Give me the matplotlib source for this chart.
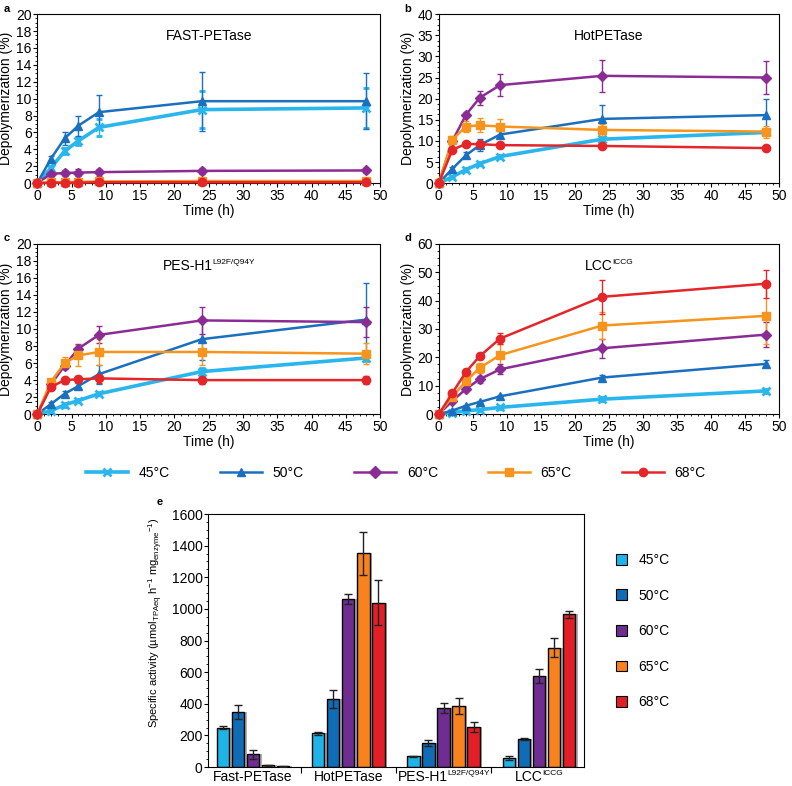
import matplotlib.pyplot as plt
import numpy as np
from matplotlib.lines import Line2D
from matplotlib.patches import Patch
from matplotlib.offsetbox import AnnotationBbox, HPacker, TextArea

plt.rcParams["font.family"] = ["Liberation Sans", "DejaVu Sans"]
plt.rcParams["mathtext.fontset"] = "custom"
plt.rcParams["mathtext.rm"] = "Liberation Sans"

TIME = [0, 2, 4, 6, 9, 24, 48]
TEMPS = ["45°C", "50°C", "60°C", "65°C", "68°C"]
LINE_COLORS = ["#29b6ec", "#1a6fbe", "#8b2c94", "#f7941d", "#e3262a"]
BAR_COLORS = ["#1eb4e8", "#0f6cb5", "#6f2d91", "#f7821e", "#e21f26"]
MARKERS = ["x", "^", "D", "s", "o"]

# depolymerization (%) per enzyme, rows = temperatures
FAST_Y = [
    [0, 1.8, 3.8, 5.0, 6.6, 8.7, 8.9],
    [0, 2.9, 5.3, 6.8, 8.4, 9.7, 9.7],
    [0, 1.1, 1.2, 1.25, 1.3, 1.45, 1.5],
    [0, 0.1, 0.1, 0.15, 0.2, 0.25, 0.25],
    [0, 0.05, 0.05, 0.05, 0.1, 0.1, 0.1],
]
FAST_E = [
    [0, 0.2, 0.4, 0.5, 1.0, 2.2, 2.4],
    [0, 0.3, 0.8, 1.2, 2.0, 3.5, 3.3],
    [0, 0.3, 0.4, 0.4, 0.4, 0.4, 0.3],
    [0, 0.05, 0.05, 0.05, 0.1, 0.1, 0.1],
    [0, 0.05, 0.05, 0.05, 0.05, 0.05, 0.05],
]
HOT_Y = [
    [0, 1.5, 3.2, 4.6, 6.3, 10.4, 12.0],
    [0, 3.4, 6.6, 9.0, 11.5, 15.2, 16.1],
    [0, 10.0, 16.2, 20.2, 23.2, 25.4, 25.0],
    [0, 10.3, 13.4, 13.7, 13.4, 12.6, 12.2],
    [0, 7.9, 9.3, 9.2, 9.0, 8.8, 8.3],
]
HOT_E = [
    [0, 0.3, 0.3, 0.4, 0.4, 0.6, 0.6],
    [0, 0.5, 0.7, 1.5, 0.8, 3.2, 3.7],
    [0, 0.6, 0.6, 1.6, 2.6, 3.8, 3.9],
    [0, 0.8, 1.4, 1.6, 1.7, 1.5, 1.4],
    [0, 0.4, 0.4, 0.4, 0.4, 0.4, 0.4],
]
PES_Y = [
    [0, 0.4, 1.1, 1.6, 2.4, 5.0, 6.6],
    [0, 1.2, 2.4, 3.3, 4.7, 8.8, 11.1],
    [0, 3.5, 5.7, 7.7, 9.3, 11.0, 10.8],
    [0, 3.8, 6.0, 6.9, 7.3, 7.3, 7.1],
    [0, 3.2, 4.0, 4.1, 4.2, 4.0, 4.0],
]
PES_E = [
    [0, 0.1, 0.2, 0.2, 0.2, 0.4, 0.4],
    [0, 0.2, 0.3, 0.4, 1.1, 2.4, 4.3],
    [0, 0.3, 0.4, 0.5, 1.0, 1.6, 1.8],
    [0, 0.3, 0.7, 1.2, 1.5, 1.5, 1.2],
    [0, 0.2, 0.4, 0.4, 0.5, 0.5, 0.5],
]
LCC_Y = [
    [0, 0.5, 1.2, 1.6, 2.4, 5.3, 8.2],
    [0, 1.3, 3.0, 4.3, 6.3, 12.9, 17.7],
    [0, 4.7, 8.9, 12.3, 15.8, 23.2, 28.0],
    [0, 6.2, 11.6, 16.3, 20.8, 31.2, 34.6],
    [0, 7.5, 14.9, 20.4, 26.6, 41.3, 45.9],
]
LCC_E = [
    [0, 0.2, 0.3, 0.3, 0.4, 0.6, 0.8],
    [0, 0.3, 0.4, 0.5, 0.6, 0.8, 1.2],
    [0, 0.5, 0.8, 1.2, 1.8, 3.3, 4.5],
    [0, 0.6, 1.0, 1.8, 3.8, 4.6, 10.0],
    [0, 0.6, 0.9, 1.0, 2.0, 6.0, 5.0],
]

# specific activity
ENZYMES = ["Fast-PETase", "HotPETase", "PES-H1", "LCC"]
ENZYME_SUPS = ["", "", "L92F/Q94Y", "ICCG"]
ACT = [
    [248, 350, 80, 12, 5],
    [213, 432, 1062, 1352, 1040],
    [70, 152, 372, 385, 255],
    [58, 178, 578, 755, 965],
]
ACT_E = [
    [10, 45, 30, 4, 2],
    [10, 55, 32, 135, 140],
    [3, 20, 32, 50, 30],
    [12, 5, 45, 60, 25],
]


def sup_text(ax, xy, base, sup, coords, box_align, size=10):
    # base text plus a small superscript, centred as one label
    parts = [TextArea(base, textprops=dict(fontsize=size))]
    if sup:
        parts.append(TextArea(sup, textprops=dict(fontsize=size * 0.6)))
    pack = HPacker(children=parts, align="top", pad=0, sep=-0.5)
    ab = AnnotationBbox(pack, xy, xycoords=coords, box_alignment=box_align,
                        frameon=False, pad=0, annotation_clip=False)
    ax.add_artist(ab)


fig = plt.figure(figsize=(7.92, 7.86), dpi=100)

panels = [
    ("a", "FAST-PETase", "", FAST_Y, FAST_E, 20, 2, [0.047, 0.767, 0.433, 0.215]),
    ("b", "HotPETase", "", HOT_Y, HOT_E, 40, 5, [0.554, 0.767, 0.430, 0.215]),
    ("c", "PES-H1", "L92F/Q94Y", PES_Y, PES_E, 20, 2, [0.047, 0.473, 0.433, 0.217]),
    ("d", "LCC", "ICCG", LCC_Y, LCC_E, 60, 10, [0.554, 0.473, 0.430, 0.217]),
]

for letter, title, sup, ys, es, ymax, ystep, rect in panels:
    ax = fig.add_axes(rect)
    for i in range(5):
        lw = 2.6 if i == 0 else 1.8
        ax.errorbar(TIME, ys[i], yerr=es[i], color=LINE_COLORS[i], marker=MARKERS[i],
                    ms=6 if MARKERS[i] != "D" else 5, mew=2 if MARKERS[i] == "x" else 1,
                    lw=lw, elinewidth=1, capsize=2, capthick=1, clip_on=False, zorder=3)
    ax.set_xlim(0, 50)
    ax.set_ylim(0, ymax)
    ax.set_xticks(np.arange(0, 51, 5))
    ax.set_yticks(np.arange(0, ymax + 0.1, ystep))
    ax.set_yticks(np.arange(0, ymax + 0.1, ystep / 4), minor=True)
    ax.set_xticks(np.arange(0, 51, 1), minor=True)
    ax.tick_params(labelsize=10, length=3, pad=1)
    ax.tick_params(which="minor", length=1.5)
    ax.set_xlabel("Time (h)", fontsize=10, labelpad=1)
    ax.set_ylabel("Depolymerization (%)", fontsize=10, labelpad=2)
    sup_text(ax, (0.5, 0.87), title, sup, ax.transAxes, (0.5, 0.5))
    fig.text(rect[0] - 0.043, rect[1] + rect[3] + 0.003, letter, fontsize=8, fontweight="bold")

handles = [Line2D([], [], color=LINE_COLORS[i], marker=MARKERS[i], lw=2.6 if i == 0 else 1.8,
                  ms=6, mew=2 if MARKERS[i] == "x" else 1) for i in range(5)]
fig.legend(handles, TEMPS, loc="center", bbox_to_anchor=(0.5, 0.398), ncol=5, frameon=False,
           fontsize=10, handlelength=3, columnspacing=3.6, handletextpad=0.8)

# bar panel
axe = fig.add_axes([0.263, 0.024, 0.475, 0.322])
x = np.arange(len(ENZYMES))
w = 0.158
for j in range(5):
    pos = x + (j - 2) * w
    vals = [ACT[g][j] for g in range(4)]
    errs = [ACT_E[g][j] for g in range(4)]
    axe.bar(pos + 0.02, vals, width=w * 0.9, color="#b0b0b0", zorder=1)
    axe.bar(pos, vals, width=w * 0.82, color=BAR_COLORS[j], edgecolor="black", lw=1.0, zorder=2)
    axe.errorbar(pos, vals, yerr=errs, fmt="none", ecolor="#222222", elinewidth=1,
                 capsize=3, capthick=1, zorder=3)
axe.set_xlim(-0.47, 3.48)
axe.set_ylim(0, 1600)
axe.set_yticks(np.arange(0, 1601, 200))
axe.set_yticks(np.arange(0, 1601, 50), minor=True)
axe.set_xticks([0.5, 1.5, 2.5])
axe.set_xticklabels([])
axe.tick_params(axis="x", which="major", length=4)
axe.tick_params(axis="y", labelsize=10, length=3, pad=1)
axe.tick_params(axis="y", which="minor", length=1.5)
for g in range(len(ENZYMES)):
    sup_text(axe, (x[g], -0.012), ENZYMES[g], ENZYME_SUPS[g],
             axe.get_xaxis_transform(), (0.5, 1.0))
axe.set_ylabel("Specific activity (µmol$_{\\mathregular{TPAeq}}$ h$^{\\mathregular{-1}}$ "
               "mg$_{\\mathregular{enzyme}}$$^{\\mathregular{-1}}$)", fontsize=8, labelpad=4)
axe.yaxis.set_label_coords(-0.115, 0.57)
fig.text(0.198, 0.357, "e", fontsize=8, fontweight="bold")

bar_handles = [Patch(facecolor=BAR_COLORS[j], edgecolor="black", lw=0.8) for j in range(5)]
fig.legend(bar_handles, TEMPS, loc="center left", bbox_to_anchor=(0.762, 0.197), frameon=False,
           fontsize=10, handlelength=0.8, handleheight=0.8, labelspacing=1.55, handletextpad=0.8)

fig.savefig("out.png", dpi=100)
